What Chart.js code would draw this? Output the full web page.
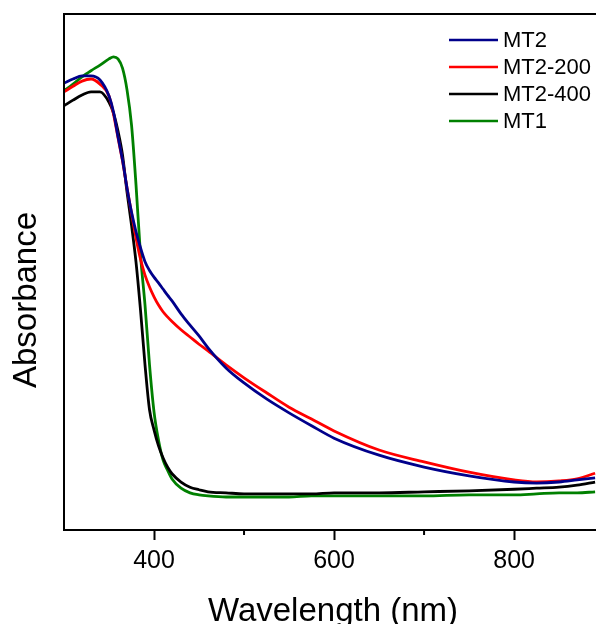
<!DOCTYPE html>
<html>
<head>
<meta charset="utf-8">
<script src="https://cdn.jsdelivr.net/npm/chart.js@4.4.1/dist/chart.umd.min.js"></script>
<style>
    html, body { margin: 0; padding: 0; background: #fff; }
</style>
</head>
<body>
<canvas id="absChart" width="596" height="624"></canvas>
<script>
// wavelength grid (nm) and absorbance (a.u.)
const wavelength = [300, 310, 320, 330, 340, 350, 355, 360, 365, 370, 375, 380, 385, 390, 395, 400,
    405, 410, 415, 420, 430, 440, 450, 460, 480, 500, 525, 550, 575, 600, 650, 700, 750, 800, 825, 850, 870, 890];

const mt2 = [0.866, 0.874, 0.880, 0.880, 0.872, 0.841, 0.810, 0.762, 0.717, 0.663, 0.616, 0.578, 0.547, 0.520, 0.503, 0.490,
    0.479, 0.467, 0.455, 0.444, 0.419, 0.397, 0.376, 0.353, 0.314, 0.285, 0.254, 0.227, 0.202, 0.178, 0.145, 0.122, 0.105, 0.093, 0.091, 0.093, 0.097, 0.101];

const mt2_200 = [0.849, 0.860, 0.870, 0.874, 0.864, 0.841, 0.806, 0.760, 0.715, 0.663, 0.614, 0.566, 0.525, 0.494, 0.471, 0.452,
    0.436, 0.423, 0.413, 0.404, 0.388, 0.374, 0.360, 0.347, 0.320, 0.295, 0.266, 0.238, 0.215, 0.192, 0.155, 0.132, 0.112, 0.097, 0.093, 0.095, 0.099, 0.110];

const mt2_400 = [0.822, 0.833, 0.843, 0.849, 0.849, 0.829, 0.808, 0.773, 0.727, 0.655, 0.591, 0.519, 0.426, 0.320, 0.233, 0.194,
    0.163, 0.140, 0.122, 0.109, 0.093, 0.083, 0.078, 0.074, 0.072, 0.070, 0.070, 0.070, 0.070, 0.072, 0.072, 0.074, 0.076, 0.079, 0.081, 0.083, 0.087, 0.093];

const mt1 = [0.851, 0.864, 0.878, 0.890, 0.901, 0.913, 0.917, 0.913, 0.895, 0.853, 0.785, 0.669, 0.533, 0.436, 0.320, 0.229,
    0.174, 0.136, 0.116, 0.099, 0.081, 0.072, 0.068, 0.066, 0.064, 0.064, 0.064, 0.064, 0.066, 0.066, 0.066, 0.066, 0.068, 0.068, 0.070, 0.072, 0.072, 0.074];

const seriesNames = ["MT2", "MT2-200", "MT2-400", "MT1"];
const seriesColors = ["#00008b", "#ff0000", "#000000", "#008000"];
const xTicks = [400, 500, 600, 700, 800];
const xMin = 300;
const xMax = 891;

const font = "Arial, 'Liberation Sans', sans-serif";

function toPoints(values) {
    return values.map((v, i) => ({ x: wavelength[i], y: v }));
}

const allSeries = [mt2, mt2_200, mt2_400, mt1];

// frame, minor ticks, axis titles and legend
const decorations = {
    id: "decorations",
    afterDraw(chart) {
        const { ctx, chartArea } = chart;
        const xScale = chart.scales.x;
        ctx.save();
        ctx.strokeStyle = "#000";
        ctx.lineWidth = 2;
        ctx.beginPath();
        ctx.moveTo(chartArea.right + 4, chartArea.top);
        ctx.lineTo(chartArea.left, chartArea.top);
        ctx.lineTo(chartArea.left, chartArea.bottom);
        ctx.lineTo(chartArea.right + 4, chartArea.bottom);
        ctx.stroke();

        xTicks.filter(v => v % 200 !== 0).forEach(v => {
            const px = xScale.getPixelForValue(v);
            ctx.beginPath();
            ctx.moveTo(px, chartArea.bottom);
            ctx.lineTo(px, chartArea.bottom + 5);
            ctx.stroke();
        });

        ctx.fillStyle = "#000";
        ctx.font = "33px " + font;
        ctx.textAlign = "center";
        ctx.textBaseline = "alphabetic";
        ctx.fillText("Wavelength (nm)", 333, 621);

        ctx.save();
        ctx.translate(36, 300);
        ctx.rotate(-Math.PI / 2);
        ctx.fillText("Absorbance", 0, 0);
        ctx.restore();

        ctx.font = "22px " + font;
        ctx.textAlign = "left";
        ctx.textBaseline = "middle";
        seriesNames.forEach((name, i) => {
            const y = 40 + i * 27;
            ctx.strokeStyle = seriesColors[i];
            ctx.lineWidth = 2.5;
            ctx.beginPath();
            ctx.moveTo(449, y);
            ctx.lineTo(498, y);
            ctx.stroke();
            ctx.fillText(name, 503, y + 1);
        });
        ctx.restore();
    }
};

new Chart(document.getElementById("absChart"), {
    type: "line",
    data: {
        datasets: allSeries.map((values, i) => ({
            label: seriesNames[i],
            data: toPoints(values),
            borderColor: seriesColors[i],
            borderWidth: 2.8,
            pointRadius: 0,
            cubicInterpolationMode: "monotone",
            fill: false
        }))
    },
    options: {
        responsive: false,
        animation: false,
        layout: {
            padding: { left: 64, top: 14, right: 0, bottom: 42 }
        },
        plugins: {
            legend: { display: false },
            tooltip: { enabled: false }
        },
        scales: {
            x: {
                type: "linear",
                min: xMin,
                max: xMax,
                afterBuildTicks: (scale) => {
                    scale.ticks = xTicks.map(v => ({ value: v }));
                },
                border: { display: false },
                grid: {
                    drawOnChartArea: false,
                    drawTicks: true,
                    tickLength: 10,
                    tickWidth: 2,
                    tickColor: (c) => (c.tick && c.tick.value % 200 === 0) ? "#000" : "rgba(0,0,0,0)"
                },
                ticks: {
                    color: "#000",
                    padding: 6,
                    maxRotation: 0,
                    autoSkip: false,
                    font: { family: font, size: 25 },
                    callback: (v) => v % 200 === 0 ? String(v) : ""
                }
            },
            y: {
                display: false,
                min: 0,
                max: 1
            }
        }
    },
    plugins: [decorations]
});
</script>
</body>
</html>
